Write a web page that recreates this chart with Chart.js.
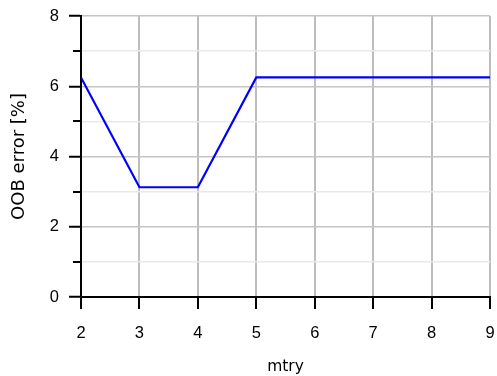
<!DOCTYPE html>
<html>
<head>
<meta charset="utf-8">
<script src="https://cdn.jsdelivr.net/npm/chart.js@4/dist/chart.umd.min.js"></script>
<style>
  html, body { margin: 0; padding: 0; background: #fff; }
  #wrap { width: 497px; height: 376px; }
</style>
</head>
<body>
<div id="wrap"><canvas id="c" width="497" height="376"></canvas></div>
<script>
// mtry values tried and the out-of-bag error for each
const mtry = [2, 3, 4, 5, 6, 7, 8, 9];
const oobError = [6.25, 3.125, 3.125, 6.25, 6.25, 6.25, 6.25, 6.25];
const yMajorTicks = [0, 2, 4, 6, 8];
const yMinorTicks = [1, 3, 5, 7];

const TICK_FONT = "'Liberation Sans', Arial, sans-serif";
const TITLE_FONT = "'DejaVu Sans', sans-serif";

// short tick marks on the odd y values
const minorTicks = {
  id: 'minorTicks',
  afterDraw(chart) {
    const y = chart.scales.y;
    const ctx = chart.ctx;
    ctx.save();
    ctx.strokeStyle = '#000';
    ctx.lineWidth = 2;
    yMinorTicks.forEach(v => {
      const py = Math.round(y.getPixelForValue(v));
      ctx.beginPath();
      ctx.moveTo(y.right - 8, py);
      ctx.lineTo(y.right, py);
      ctx.stroke();
    });
    ctx.restore();
  }
};

// keep the plot box exactly where the layout padding puts it
function noEdgePadding(s) {
  s.paddingLeft = 0; s.paddingRight = 0; s.paddingTop = 0; s.paddingBottom = 0;
}

new Chart(document.getElementById('c'), {
  type: 'line',
  data: {
    datasets: [{
      data: mtry.map((m, i) => ({ x: m, y: oobError[i] })),
      borderColor: '#0000ff',
      borderWidth: 2.2,
      pointRadius: 0,
      tension: 0,
      fill: false
    }]
  },
  options: {
    responsive: false,
    animation: false,
    layout: { padding: { left: 0, right: 7, top: 16, bottom: 0 } },
    plugins: { legend: { display: false }, tooltip: { enabled: false } },
    scales: {
      x: {
        type: 'linear',
        min: 2, max: 9,
        afterFit(s) { s.height = 79; noEdgePadding(s); },
        ticks: {
          stepSize: 1,
          color: '#000',
          font: { family: TICK_FONT, size: 16.5 },
          padding: 15
        },
        grid: {
          color: '#bdbdbd',
          lineWidth: 2,
          tickColor: '#000',
          tickWidth: 2,
          tickLength: 12
        },
        border: { color: '#000', width: 2 },
        title: {
          display: true,
          text: 'mtry',
          color: '#000',
          font: { family: TITLE_FONT, size: 15.5 },
          padding: { top: 0, bottom: 0 }
        }
      },
      y: {
        type: 'linear',
        min: 0, max: 8,
        afterFit(s) { s.width = 81; noEdgePadding(s); },
        ticks: {
          stepSize: 1,
          autoSkip: false,
          color: '#000',
          font: { family: TICK_FONT, size: 16.5 },
          padding: 10,
          callback: v => yMajorTicks.includes(v) ? String(v) : ''
        },
        grid: {
          color: c => (c.tick && c.tick.value % 2 === 0) ? '#c4c4c4' : '#e9e9e9',
          lineWidth: 1.5,
          tickColor: c => (c.tick && c.tick.value % 2 === 0) ? '#000' : 'rgba(0,0,0,0)',
          tickWidth: 2,
          tickLength: 12
        },
        border: { color: '#000', width: 2 },
        title: {
          display: true,
          text: 'OOB error [%]',
          color: '#000',
          font: { family: TITLE_FONT, size: 18 },
          padding: { top: 9, bottom: 0 }
        }
      }
    }
  },
  plugins: [minorTicks]
});
</script>
</body>
</html>
